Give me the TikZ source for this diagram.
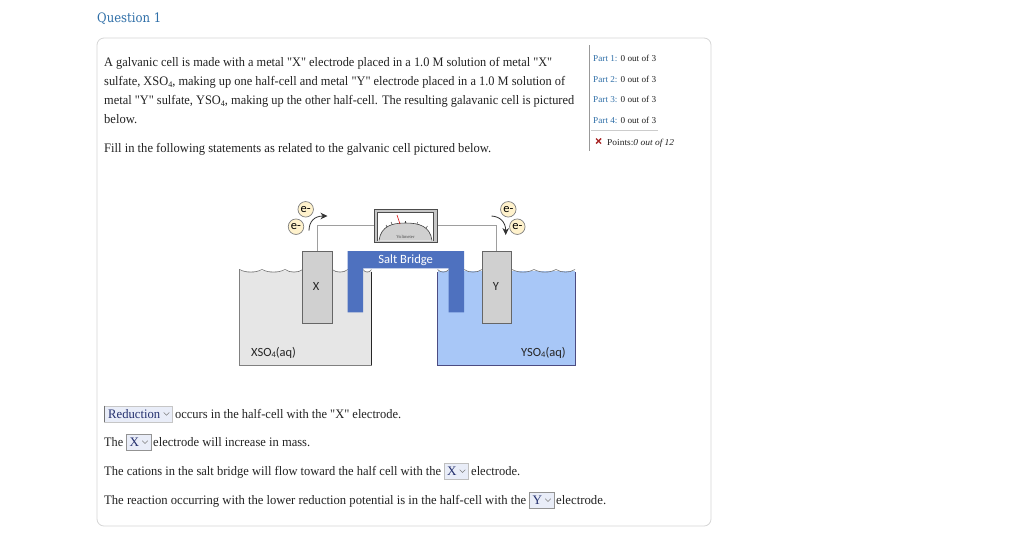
\documentclass[tikz,border=0pt]{standalone}
\usepackage{fontspec}
\setmainfont{Liberation Serif}[Ligatures=TeXOff]
\newfontfamily\diagfont{Carlito}
\newfontfamily\headfont{DejaVu Serif}
\usetikzlibrary{arrows.meta}
\definecolor{txt}{HTML}{222222}
\definecolor{linkblue}{HTML}{2F6FA8}
\definecolor{cardline}{HTML}{D6D6D6}
\definecolor{bridge}{HTML}{4E71BF}
\definecolor{waterblue}{HTML}{A8C7F7}
\definecolor{beakergray}{HTML}{E6E6E6}
\definecolor{elgray}{HTML}{D0D0D0}
\definecolor{ddfill}{HTML}{E9EDF8}
\definecolor{ddtxt}{HTML}{24306E}
\definecolor{emfill}{HTML}{FFF2CC}
\newcommand\fitw[2]{\resizebox{#1pt}{\height}{#2}}
\newcommand\lowfour{\raisebox{-2.5pt}{\fontsize{8.5}{8.5}\selectfont 4}}
\newcommand\chev[2]{\draw[gray,line width=.5pt] (#1-2.8,#2-1.4) -- (#1,#2+1.4) -- (#1+2.8,#2-1.4);}
\tikzset{
  body/.style={anchor=base west,inner sep=0pt,text=txt,font=\fontsize{13}{13}\selectfont},
  side/.style={anchor=base west,inner sep=0pt,text=txt,font=\fontsize{9}{9}\selectfont},
  dd/.style={anchor=north west,inner sep=0pt,draw=gray!85,fill=ddfill,line width=.6pt},
  ddlabel/.style={anchor=base west,inner sep=0pt,text=ddtxt,font=\fontsize{13}{13}\selectfont},
  electrode/.style={anchor=north west,inner sep=0pt,draw=black!60,fill=elgray,line width=.7pt,minimum width=29.5pt,minimum height=71.5pt},
  elabel/.style={inner sep=0pt,font=\diagfont\fontsize{12.5}{12.5}\selectfont,text=black!85},
  emark/.style={circle,draw=black!50,fill=emfill,line width=.7pt,minimum size=15.5pt,inner sep=0pt,font=\diagfont\fontsize{12.5}{12.5}\selectfont},
  wire/.style={draw=black!38,line width=1.1pt},
  flow/.style={line width=.8pt,black!80,-{Stealth[length=7pt,width=6.5pt]}},
  wave/.style={black!55,line width=.6pt},
}
\begin{document}
\begin{tikzpicture}[x=1pt,y=-1pt]
\fill[white] (0,0) rectangle (1024,539);
\useasboundingbox (0,0) rectangle (1024,539);
% header and card
\node[anchor=base west,inner sep=0pt,text=linkblue,font=\headfont\fontsize{13}{13}\selectfont] (title) at (97,22) {\fitw{64}{Question 1}};
\draw[cardline,line width=.8pt,rounded corners=7pt] (97,38) rectangle (711,526);
% question text
\node[body] (l1) at (104,66) {\fitw{448}{A galvanic cell is made with a metal "X" electrode placed in a 1.0 M solution of metal "X"}};
\node[body] (l2) at (104,85) {\fitw{461}{sulfate, XSO\lowfour, making up one half-cell and metal "Y" electrode placed in a 1.0 M solution of}};
\node[body] (l3) at (104,104) {\fitw{470}{metal "Y" sulfate, YSO\lowfour, making up the other half-cell. The resulting galavanic cell is pictured}};
\node[body] (l4) at (104,123) {\fitw{33}{below.}};
\node[body] (l5) at (104,152) {\fitw{387}{Fill in the following statements as related to the galvanic cell pictured below.}};
% side panel
\draw[black!40,line width=.8pt] (589,45) -- (589,151);
\draw[black!20,line width=.6pt] (591,130.5) -- (658,130.5);
\foreach \n/\y in {1/61,2/82,3/102,4/123}{
  \node[side] (p\n) at (593,\y) {\fitw{63}{\textcolor{linkblue}{Part \n:} 0 out of 3}};
}
\draw[red!60!black!85,line width=1.4pt] (596,138.5) -- (601,143.5) (601,138.5) -- (596,143.5);
\node[side] (pts) at (607,145) {\fitw{67}{Points:\itshape 0 out of 12}};
% beakers
\fill[beakergray] (239.5,271) -- (371.5,271) -- (371.5,365) -- (239.5,365) -- cycle;
\fill[waterblue] (437.5,271) -- (575,271) -- (575,365) -- (437.5,365) -- cycle;
\draw[black!50,line width=.8pt] (239.5,269) -- (239.5,365) -- (371.5,365);
\draw[black!85,line width=.8pt] (371.5,272) -- (371.5,365);
\draw[black!70!blue!70,line width=.9pt] (437.5,272) -- (437.5,365) -- (575,365) -- (575,272);
\foreach \a/\b in {239.5/262,262/285,285/303,332/348,363/371.5,437.5/449,464/482,512/534,534/556,556/575}{
  \draw[wave] (\a,269.5) .. controls (\a+0.3*\b-0.3*\a,273) and (\a+0.7*\b-0.7*\a,273) .. (\b,269.5);
}
% wires, electrodes and meter
\node[electrode] (xel) at (302.2,251) {};
\node[electrode] (yel) at (481.8,251) {};
\node[anchor=north west,inner sep=0pt,draw=black!70,fill=black!22,line width=1.3pt,minimum width=62.5pt,minimum height=32.5pt] (volt) at (374,209) {};
\draw[wire] (xel.north) |- (volt.west);
\draw[wire] (yel.north) |- (volt.east);
\fill[white] (377,212) rectangle (433.5,240.5);
\draw[black!70,line width=.9pt] (377,240.5) -- (377,212) -- (433.5,212) -- (433.5,240.5);
\fill[elgray] (379,240.5) .. controls (381,226) and (392,223) .. (405.5,223) .. controls (419,223) and (430,226) .. (432,240.5) -- cycle;
\draw[black!75,line width=.6pt] (379,240.5) .. controls (381,226) and (392,223) .. (405.5,223) .. controls (419,223) and (430,226) .. (432,240.5);
\foreach \tx/\ty/\ux/\uy in {387/227/386/225,392/224/391/222,405.5/223/405.5/221,417/224/417.5/222,426/228/427.5/226}{
  \draw[black!75,line width=.5pt] (\tx,\ty) -- (\ux,\uy);
}
\draw[red!85!black,line width=.6pt] (397,215) -- (400,224);
\node[inner sep=0pt,font=\fontsize{4.6}{4.6}\selectfont,text=black!70] (vlabel) at (405.5,237) {Voltmeter};
% salt bridge
\fill[bridge] (347.7,251) -- (464,251) -- (464,312.3) -- (448.7,312.3) -- (448.7,268.3) -- (363,268.3) -- (363,312.3) -- (347.7,312.3) -- cycle;
% labels
\node[inner sep=0pt,text=white,font=\diagfont\fontsize{12.6}{12.6}\selectfont] (salt) at (405.7,260) {Salt Bridge};
\node[elabel] (xlab) at (316,286.5) {X};
\node[elabel] (ylab) at (496,286.5) {Y};
\node[elabel,anchor=base west] (xsol) at (251,356) {XSO\raisebox{-1.5pt}{\fontsize{8.5}{8.5}\selectfont 4}(aq)};
\node[elabel,anchor=base west] (ysol) at (521,356) {YSO\raisebox{-1.5pt}{\fontsize{8.5}{8.5}\selectfont 4}(aq)};
% electrons
\node[emark] (e1) at (305.7,209.3) {e-};
\node[emark] (e2) at (296,226.7) {e-};
\node[emark] (e3) at (508.3,209.3) {e-};
\node[emark] (e4) at (517.3,226.7) {e-};
\coordinate (fa) at (309,230.7);
\coordinate (fb) at (327.5,216);
\coordinate (fc) at (491.5,216);
\coordinate (fd) at (505.7,235);
\draw[flow] (fa) .. controls (309,222) and (314,216) .. (fb);
\draw[flow] (fc) .. controls (500,216.5) and (505.7,222) .. (fd);
% answers
\node[dd,draw=gray!45,minimum width=67.5pt,minimum height=16pt] (d1) at (104.3,405.7) {};
\draw[black!55,line width=.8pt] (104.6,405.7) -- (104.6,421.7);
\node[ddlabel] (d1t) at (108,418) {\fitw{52}{Reduction}};
\chev{166.5}{413.8}
\node[body] (a1) at (175,418) {\fitw{226}{occurs in the half-cell with the "X" electrode.}};
\node[body] (a2a) at (104,446) {\fitw{19}{The}};
\node[dd,minimum width=24.7pt,minimum height=16pt] (d2) at (126,434) {};
\node[ddlabel] (d2t) at (129.5,446) {\fitw{9.5}{X}};
\chev{145}{442}
\node[body] (a2b) at (153,446) {\fitw{157}{electrode will increase in mass.}};
\node[body] (a3a) at (104,475) {\fitw{337}{The cations in the salt bridge will flow toward the half cell with the}};
\node[dd,draw=gray!50,minimum width=24.3pt,minimum height=15.5pt] (d3) at (443.7,463) {};
\node[ddlabel] (d3t) at (447,475) {\fitw{9.5}{X}};
\chev{462.5}{471}
\node[body] (a3b) at (471,475) {\fitw{49}{electrode.}};
\node[body] (a4a) at (104,504) {\fitw{422}{The reaction occurring with the lower reduction potential is in the half-cell with the}};
\node[dd,minimum width=24.7pt,minimum height=15.7pt] (d4) at (529,492) {};
\node[ddlabel] (d4t) at (532.5,504) {\fitw{9.5}{Y}};
\chev{548}{500}
\node[body] (a4b) at (556,504) {\fitw{50}{electrode.}};
\end{tikzpicture}
\end{document}
